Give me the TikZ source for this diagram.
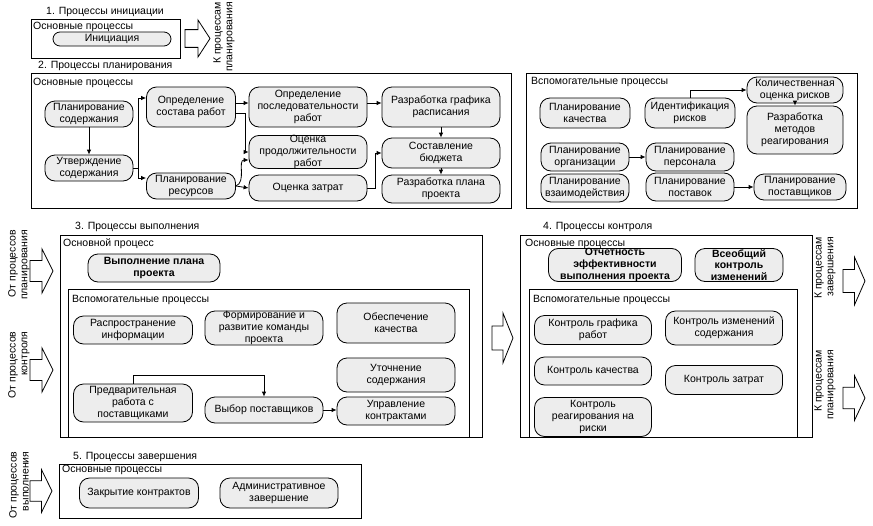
\documentclass[tikz,border=0pt]{standalone}
\usepackage{fontspec}
\setmainfont{Liberation Sans}
\usetikzlibrary{arrows.meta}
\definecolor{nodegray}{RGB}{237,237,237}
\newcommand\blkarrow[4]{\draw[blk] ({#1},{#2-0.24*#4}) -- ({#1+0.52*#3},{#2-0.24*#4}) -- ({#1+0.52*#3},{#2-0.5*#4}) -- ({#1+#3},{#2}) -- ({#1+0.52*#3},{#2+0.5*#4}) -- ({#1+0.52*#3},{#2+0.24*#4}) -- ({#1},{#2+0.24*#4}) -- cycle;}
\begin{document}
\begin{tikzpicture}[x=1pt,y=-1pt,
  every node/.style={font=\fontsize{10.5}{11.8}\selectfont},
  pn/.style={draw=black, line width=0.8pt, fill=nodegray, rounded corners=#1, align=center, inner sep=0pt},
  pn/.default=10pt,
  frame/.style={draw=black, line width=0.8pt},
  lbl/.style={anchor=west, inner sep=0pt},
  conn/.style={draw=black, line width=0.8pt, -{Latex[length=5pt,width=4.5pt]}},
  blk/.style={draw=black, line width=0.8pt, fill=white},
  rot/.style={rotate=90, align=right, inner sep=0pt},
  bf/.style={font=\fontsize{10.5}{11.8}\selectfont\bfseries},
]
\useasboundingbox (0,0) rectangle (873,525);

% ---------- 1. Initiation ----------
\node[lbl] (l1) at (46,12) {1. Процессы инициации};
\draw[frame] (31,19) rectangle (180,58);
\node[lbl] (l1a) at (33,27) {Основные процессы};
\node[pn=7pt, minimum width=118pt, minimum height=14pt] (ini) at (112,39) {Инициация};
\blkarrow{185}{38.5}{25}{37}
\node[rot] (r1) at (224,37) {К процессам\\планирования};

% ---------- 2. Planning ----------
\node[lbl] (l2) at (38,66) {2. Процессы планирования};
\draw[frame] (31,73) rectangle (511,208);
\node[lbl] (l2a) at (33,83) {Основные процессы};
\node[pn, minimum width=88pt, minimum height=26pt] (pc) at (89,114) {Планирование\\содержания};
\node[pn, minimum width=88pt, minimum height=26pt] (ps) at (89,168) {Утверждение\\содержания};
\node[pn, minimum width=89pt, minimum height=40pt] (osr) at (191,107) {Определение\\состава работ};
\node[pn, minimum width=89pt, minimum height=26pt] (pr) at (191,186) {Планирование\\ресурсов};
\node[pn, minimum width=118pt, minimum height=40pt] (op) at (308,107) {Определение\\последовательности\\работ};
\node[pn, minimum width=118pt, minimum height=32pt] (opr) at (308,152) {Оценка\\продолжительности\\работ};
\node[pn, minimum width=118pt, minimum height=26pt] (oz) at (308,188) {Оценка затрат};
\node[pn, minimum width=118pt, minimum height=40pt] (rg) at (441,107) {Разработка графика\\расписания};
\node[pn, minimum width=118pt, minimum height=30pt] (sb) at (441,153) {Составление\\бюджета};
\node[pn, minimum width=118pt, minimum height=28pt] (rp) at (441,189) {Разработка плана\\проекта};

\coordinate (v1) at (138,98);
\coordinate (v2) at (138,178);
\coordinate (h1) at (240,103);
\coordinate (h2) at (245,113);
\coordinate (h3) at (249,160);
\coordinate (h4) at (375,150);
\draw[conn] (pc) -- (ps);
\draw[conn] (ps.east) -- (ps.east -| v1) -- (v1) -- (v1 -| osr.west);
\draw[conn] (ps.east -| v1) -- (v2) -- (v2 -| pr.west);
\draw[conn] (h1 -| osr.east) -- (h1 -| op.west);
\draw[conn] (h2 -| osr.east) -- (h2) |- (opr.west);
\draw[conn] (pr.east) to[out=20,in=180] (opr.west |- h3);
\draw[conn] (pr.east) -- (oz.west);
\draw[conn] (h1 -| op.east) -- (h1 -| rg.west);
\draw[conn] (oz.east) -- (oz.east -| h4) |- (sb.west);
\draw[conn] (rg) -- (sb);
\draw[conn] (sb) -- (rp);

% ---------- 2b. Planning auxiliary ----------
\draw[frame] (526,73) rectangle (857,208);
\node[lbl] (l2b) at (531,82) {Вспомогательные процессы};
\node[pn, minimum width=90pt, minimum height=30pt] (pq) at (585,113) {Планирование\\качества};
\node[pn, minimum width=90pt, minimum height=30pt] (ir) at (690,113) {Идентификация\\рисков};
\node[pn, minimum width=96pt, minimum height=26pt] (kr) at (795,90) {Количественная\\оценка рисков};
\node[pn, minimum width=96pt, minimum height=48pt] (rm) at (795,130) {Разработка\\методов\\реагирования};
\node[pn, minimum width=88pt, minimum height=28pt] (po) at (585,157) {Планирование\\организации};
\node[pn, minimum width=88pt, minimum height=28pt] (pp) at (690,157) {Планирование\\персонала};
\node[pn, minimum width=88pt, minimum height=28pt] (pv) at (585,188) {Планирование\\взаимодействия};
\node[pn, minimum width=88pt, minimum height=28pt] (pst) at (690,187) {Планирование\\поставок};
\node[pn, minimum width=92pt, minimum height=26pt] (psh) at (800,187) {Планирование\\поставщиков};
\draw[conn] (ir.north) |- (kr.west);
\draw[conn] (kr) -- (rm);
\draw[conn] (po) -- (pp);
\draw[conn] (pst) -- (psh);

% ---------- 3. Execution ----------
\node[rot] (r2) at (19,265) {От процессов\\планирования};
\blkarrow{30}{271}{23}{44}
\node[rot] (r3) at (19,365) {От процессов\\контроля};
\blkarrow{30}{370}{23}{44}
\node[lbl] (l3) at (75,227) {3. Процессы выполнения};
\draw[frame] (60,235) rectangle (482,437);
\draw[frame] (68,289) rectangle (469,437);
\node[lbl] (l3a) at (63,244) {Основной процесс};
\node[lbl] (l3b) at (72,300) {Вспомогательные процессы};
\node[pn, bf, minimum width=132pt, minimum height=28pt] (vp) at (154,268) {Выполнение плана\\проекта};
\node[pn, minimum width=119pt, minimum height=28pt] (ri) at (133,330) {Распространение\\информации};
\node[pn, minimum width=118pt, minimum height=34pt] (fk) at (264,328) {Формирование и\\развитие команды\\проекта};
\node[pn, minimum width=118pt, minimum height=40pt] (ok) at (396,323) {Обеспечение\\качества};
\node[pn, minimum width=118pt, minimum height=34pt] (us) at (396,375) {Уточнение\\содержания};
\node[pn, minimum width=119pt, minimum height=38pt] (prp) at (133,403) {Предварительная\\работа с\\поставщиками};
\node[pn, minimum width=118pt, minimum height=26pt] (vps) at (264,410) {Выбор поставщиков};
\node[pn, minimum width=118pt, minimum height=28pt] (uk) at (396,411) {Управление\\контрактами};
\coordinate (t1) at (200,375);
\draw[conn] (prp.north) -- (prp.north |- t1) -| (vps.north);
\draw[conn] (vps.east) -- (vps.east -| uk.west);

\blkarrow{492}{338}{21}{50}

% ---------- 4. Control ----------
\node[lbl] (l4) at (543,227) {4. Процессы контроля};
\draw[frame] (520,235) rectangle (812,437);
\draw[frame] (529,289) rectangle (797,437);
\node[lbl] (l4a) at (525,244) {Основные процессы};
\node[lbl] (l4b) at (533,300) {Вспомогательные процессы};
\node[pn, bf, minimum width=133pt, minimum height=33pt] (ot) at (615,265) {Отчетность\\эффективности\\выполнения проекта};
\node[pn, bf, minimum width=88pt, minimum height=33pt] (vk) at (739,265) {Всеобщий\\контроль\\изменений};
\node[pn, minimum width=117pt, minimum height=29pt] (kg) at (593,330) {Контроль графика\\работ};
\node[pn, minimum width=117pt, minimum height=34pt] (kis) at (724,328) {Контроль изменений\\содержания};
\node[pn, minimum width=117pt, minimum height=28pt] (kk) at (593,371) {Контроль качества};
\node[pn, minimum width=117pt, minimum height=29pt] (kz) at (724,380) {Контроль затрат};
\node[pn, minimum width=117pt, minimum height=39pt] (kri) at (593,417) {Контроль\\реагирования на\\риски};
\node[rot] (r4) at (825,268) {К процессам\\завершения};
\blkarrow{843}{281}{22}{48}
\node[rot] (r5) at (825,385) {К процессам\\планирования};
\blkarrow{843}{398}{22}{45}

% ---------- 5. Closing ----------
\node[rot] (r6) at (19,485) {От процессов\\выполнения};
\blkarrow{30}{491}{22}{43}
\node[lbl] (l5) at (73,457) {5. Процессы завершения};
\draw[frame] (59,464) rectangle (361,518);
\node[lbl] (l5a) at (62,470) {Основные процессы};
\node[pn, minimum width=119pt, minimum height=30pt] (zk) at (139,493) {Закрытие контрактов};
\node[pn, minimum width=118pt, minimum height=30pt] (az) at (279,493) {Административное\\завершение};
\end{tikzpicture}
\end{document}
